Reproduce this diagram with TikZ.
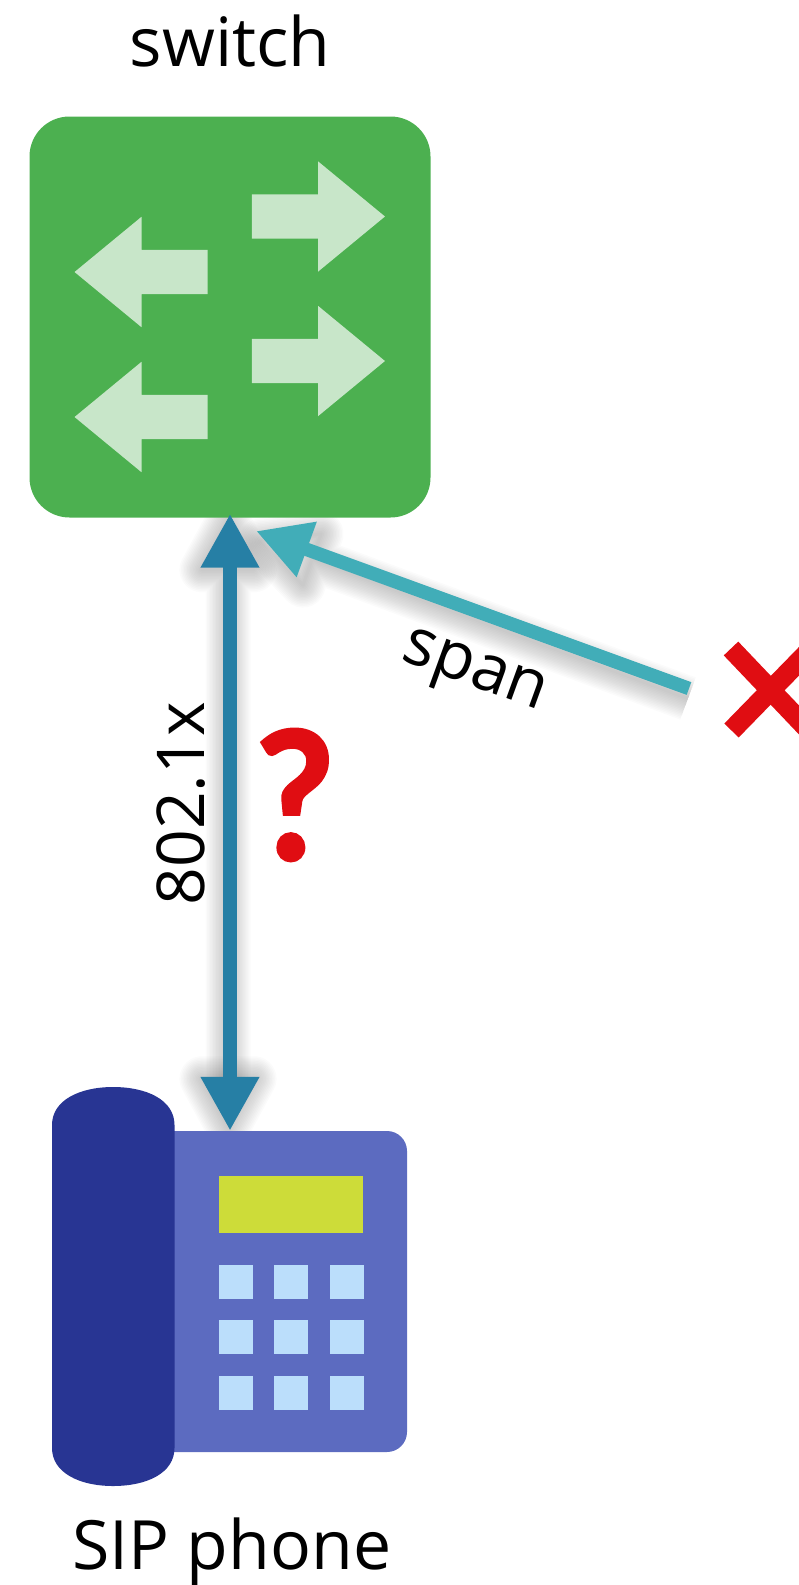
\documentclass[tikz,border=0pt]{standalone}
\usepackage{fontspec}
\setmainfont{Open Sans}
\newfontfamily\markfont[BoldFeatures={FakeBold=2}]{Lato}
\usetikzlibrary{%
  arrows.meta,%
  backgrounds,%
  calc,
  shapes.arrows,%
  positioning% wg. " of "
}
\definecolor{switchgreen}{HTML}{4CB050}
\definecolor{switcharrow}{HTML}{C8E6C9}
\definecolor{bodyblue}{HTML}{5C6BC0}
\definecolor{handsetblue}{HTML}{283593}
\definecolor{screenlime}{HTML}{CDDC39}
\definecolor{keyblue}{HTML}{BBDEFB}
\definecolor{linkblue}{HTML}{267FA5}
\definecolor{spanteal}{HTML}{41ADB8}
\definecolor{markred}{HTML}{E00D12}

\begin{document}
\begin{tikzpicture}[x=1pt,y=-1pt]
       \tikzset{caption/.style={font=\fontsize{68}{80}\selectfont, inner sep=0pt}}
       \tikzset{linktext/.style={font=\fontsize{66}{76}\selectfont, inner sep=0pt}}
       \tikzset{switchbox/.style={rectangle, minimum width=401pt, minimum height=401pt, rounded corners=40pt, fill=switchgreen}}
       \tikzset{flow/.style={single arrow, single arrow head extend=33pt, single arrow tip angle=79,
                single arrow head indent=0pt, minimum height=133pt, inner xsep=0pt, inner ysep=22pt, fill=switcharrow}}
       \tikzset{body/.style={rectangle, minimum width=260pt, minimum height=321pt, rounded corners=20pt, fill=bodyblue}}
       \tikzset{screen/.style={rectangle, minimum width=144pt, minimum height=57pt, fill=screenlime}}
       \tikzset{keypad/.style={rectangle, minimum width=34pt, minimum height=34pt, inner sep=0pt, fill=keyblue}}
       \tikzset{link/.style={line width=13.5pt, draw=linkblue, {Triangle[length=54pt,width=55pt]}-{Triangle[length=54pt,width=55pt]}}}
       \tikzset{spanlink/.style={line width=13.5pt, draw=spanteal, {Triangle[length=54pt,width=55pt]}-}}
       \tikzset{shade/.style={line width=#1, draw=black, opacity=0.015, line join=round}}

       \useasboundingbox (0,0) rectangle (799,1585);
       \clip (0,0) rectangle (799,1585);

       \node[switchbox] (switch) at (230,317) {};
       \node[caption, above = 49pt of switch] (switchlabel) {switch};

       \node[flow, shape border rotate=0] (flow1) at (305,216.5) {};
       \node[flow, shape border rotate=0] (flow2) at (305,361) {};
       \node[flow, shape border rotate=180] (flow3) at (154.5,272) {};
       \node[flow, shape border rotate=180] (flow4) at (154.5,417) {};

       \node[body] (body) at (277,1291.5) {};
       \fill[handsetblue] (52,1125) .. controls (52,1100) and (80,1087) .. (113,1087)
             .. controls (147,1087) and (174.5,1100) .. (174.5,1125) -- (174.5,1448)
             .. controls (174.5,1473) and (147,1486) .. (113,1486)
             .. controls (80,1486) and (52,1473) .. (52,1448) -- cycle;
       \node[screen] (screen) at (291,1204) {};

       \node[keypad] (key1) at (236,1282) {};
       \node[keypad, right = 21pt of key1] (key2) {};
       \node[keypad, right = 21pt of key2] (key3) {};
       \node[keypad, below = 21pt of key1] (key4) {};
       \node[keypad, right = 21pt of key4] (key5) {};
       \node[keypad, right = 21pt of key5] (key6) {};
       \node[keypad, below = 21pt of key4] (key7) {};
       \node[keypad, right = 21pt of key7] (key8) {};
       \node[keypad, right = 21pt of key8] (key9) {};

       \node[caption, below = 65pt of body.south west, xshift=-75pt, anchor=north west] (phonelabel) {SIP phone};

       \coordinate (spantip) at (256,531);
       \coordinate (spanend) at (689,688.5);
       \coordinate (linktop) at ($(switch.south)+(0,-4)$);
       \coordinate (linkfoot) at (linktop |- body.north);

       % soft shadows under the two links
       \begin{scope}[on background layer]
       \foreach \w in {3,6,...,45}{
         \draw[shade=\w pt] ($(spantip)+(5,10)$) -- ($(spantip)+(65,3)$) -- ($(spantip)+(47,54)$) -- cycle
               ($(spantip)+(56,28)$) -- ($(spanend)+(-1,10)$);
         \draw[shade=\w pt] ($(linktop)+(-2,8)$) -- ($(linktop)+(-28,56)$) -- ($(linktop)+(24,56)$) -- cycle
               ($(linktop)+(-2,54)$) -- ($(linkfoot)+(-2,-54)$);
         \draw[shade=\w pt] ($(linkfoot)+(-2,-4)$) -- ($(linkfoot)+(-28,-52)$) -- ($(linkfoot)+(24,-52)$) -- cycle;
       }
       \end{scope}

       \draw[link] (linkfoot) -- (linktop)
             node[sloped, above=18pt, pos=.53, linktext] (dotx) {802.1x};
       \draw[spanlink] (spantip) -- (spanend)
             node[sloped, below=29pt, pos=.55, linktext] (spanlabel) {span};

       \node[inner sep=0pt, text=markred, xscale=.95, font=\markfont\fontsize{178}{210}\selectfont\bfseries] (question) at (295,795) {?};

       \draw[markred, line width=20pt] (731,648.5) -- (810,731.5);
       \draw[markred, line width=20pt] (731.5,730.5) -- (810,650);
\end{tikzpicture}
\end{document}
